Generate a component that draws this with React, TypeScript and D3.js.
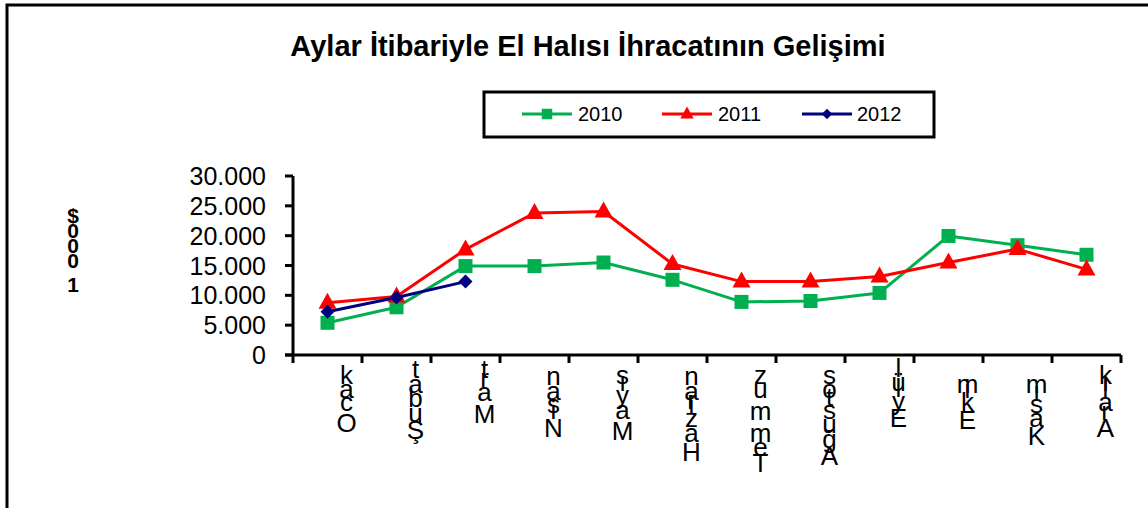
import React from 'react';
import * as d3 from 'd3';

const months = ['Ocak', 'Şubat', 'Mart', 'Nisan', 'Mayıs', 'Haziran', 'Temmuz', 'Ağustos', 'Eylül', 'Ekim', 'Kasım', 'Aralık'];
const values2010 = [5400, 8000, 14900, 14900, 15500, 12600, 8900, 9050, 10400, 19950, 18400, 16800];
const values2011 = [8750, 9800, 17700, 23800, 24050, 15250, 12300, 12300, 13150, 15500, 17750, 14350];
const values2012 = [7250, 9650, 12300];
const yTicks = [0, 5000, 10000, 15000, 20000, 25000, 30000];
const title = 'Aylar İtibariyle El Halısı İhracatının Gelişimi';
const yTitle = '1000$';

const FONT = '"Liberation Sans", Arial, sans-serif';
const W = 1148;
const H = 508;
const margin = { left: 293, right: 1121, top: 176, bottom: 355 };

const series = [
  { name: '2010', values: values2010, color: '#00B050', marker: 'square' },
  { name: '2011', values: values2011, color: '#FF0000', marker: 'triangle' },
  { name: '2012', values: values2012, color: '#000080', marker: 'diamond' },
];

let ctx: CanvasRenderingContext2D | null = null;
const measure = (s: string, font: string) => {
  if (!ctx) ctx = document.createElement('canvas').getContext('2d');
  ctx!.font = font;
  return ctx!.measureText(s).width;
};

const Marker = ({ type, x, y, color }: { type: string; x: number; y: number; color: string }) => {
  if (type === 'square') return <rect x={x - 7} y={y - 7} width={14} height={14} fill={color} />;
  if (type === 'triangle') return <path d={`M${x},${y - 10}L${x + 9},${y + 6}L${x - 9},${y + 6}Z`} fill={color} />;
  return <path d={`M${x},${y - 7}L${x + 7},${y}L${x},${y + 7}L${x - 7},${y}Z`} fill={color} />;
};

// upright letters stacked from the end of the word, like the broken rotated labels
const StackedLabel = ({ text, x, top, size, bold }: { text: string; x: number; top: number; size: number; bold?: boolean }) => {
  const font = `${bold ? 'bold ' : ''}${size}px "Liberation Sans", Arial, sans-serif`;
  const chars = Array.from(text).reverse();
  let cum = 0;
  return (
    <g>
      {chars.map((c, i) => {
        cum += measure(c, font);
        return (
          <text key={i} x={x} y={top + cum} textAnchor="middle" fontSize={size} fontWeight={bold ? 'bold' : 'normal'} fontFamily={FONT} fill="#000">
            {c}
          </text>
        );
      })}
    </g>
  );
};

export default function App() {
  const x = d3.scaleBand<string>().domain(months).range([margin.left, margin.right]);
  const y = d3.scaleLinear().domain([0, 30000]).range([margin.bottom, margin.top]);
  const cx = (i: number) => (x(months[i]) as number) + x.bandwidth() / 2;
  const line = d3.line<number>().x((_, i) => cx(i)).y((d) => y(d));
  const fmt = (v: number) => d3.format(',')(v).replace(/,/g, '.');

  const legendItems = [
    { lx: 522, tx: 578 },
    { lx: 662, tx: 718 },
    { lx: 802, tx: 857 },
  ];

  return (
    <svg width={W} height={H} style={{ position: 'absolute', left: 0, top: 0, background: '#fff' }}>
      <rect x={0} y={0} width={W} height={H} fill="#fff" />
      <path d={`M7,${H + 5}V5H${W + 5}`} fill="none" stroke="#000" strokeWidth={3} />

      <text x={588} y={56} textAnchor="middle" fontSize={29} fontWeight="bold" fontFamily={FONT}>
        {title}
      </text>

      <rect x={484} y={92} width={450} height={45} fill="#fff" stroke="#000" strokeWidth={3} />
      {series.map((s, i) => (
        <g key={s.name}>
          <line x1={legendItems[i].lx} x2={legendItems[i].lx + 50} y1={114} y2={114} stroke={s.color} strokeWidth={3} />
          <g transform={`translate(${legendItems[i].lx + 25},114) scale(0.75) translate(${-(legendItems[i].lx + 25)},-114)`}>
            <Marker type={s.marker} x={legendItems[i].lx + 25} y={114} color={s.color} />
          </g>
          <text x={legendItems[i].tx} y={121} fontSize={20} fontFamily={FONT}>
            {s.name}
          </text>
        </g>
      ))}

      {/* y title, one letter per line */}
      {Array.from(yTitle).reverse().map((c, i) => (
        <text key={i} x={73} y={[223, 238, 253, 268, 292][i]} textAnchor="middle" fontSize={21} fontWeight="bold" fontFamily={FONT}>
          {c}
        </text>
      ))}

      {/* y axis */}
      <line x1={margin.left} x2={margin.left} y1={margin.top} y2={margin.bottom} stroke="#000" strokeWidth={3} />
      {yTicks.map((t) => (
        <g key={t}>
          <line x1={margin.left - 8} x2={margin.left} y1={y(t)} y2={y(t)} stroke="#000" strokeWidth={3} />
          <text x={266} y={y(t)} dy="0.36em" textAnchor="end" fontSize={25} fontFamily={FONT}>
            {fmt(t)}
          </text>
        </g>
      ))}

      {/* x axis */}
      <line x1={margin.left - 8} x2={margin.right} y1={margin.bottom} y2={margin.bottom} stroke="#000" strokeWidth={3} />
      {months.map((m) => (
        <line key={m} x1={(x(m) as number) + x.bandwidth()} x2={(x(m) as number) + x.bandwidth()} y1={margin.bottom} y2={margin.bottom + 8} stroke="#000" strokeWidth={3} />
      ))}
      <line x1={margin.left} x2={margin.left} y1={margin.bottom} y2={margin.bottom + 8} stroke="#000" strokeWidth={3} />
      {months.map((m, i) => (
        <StackedLabel key={m} text={m} x={cx(i) + 19} top={371} size={26} />
      ))}

      {series.map((s) => (
        <g key={s.name}>
          <path d={line(s.values) || ''} fill="none" stroke={s.color} strokeWidth={3} strokeLinejoin="round" />
          {s.values.map((v, i) => (
            <Marker key={i} type={s.marker} x={cx(i)} y={y(v)} color={s.color} />
          ))}
        </g>
      ))}
    </svg>
  );
}
